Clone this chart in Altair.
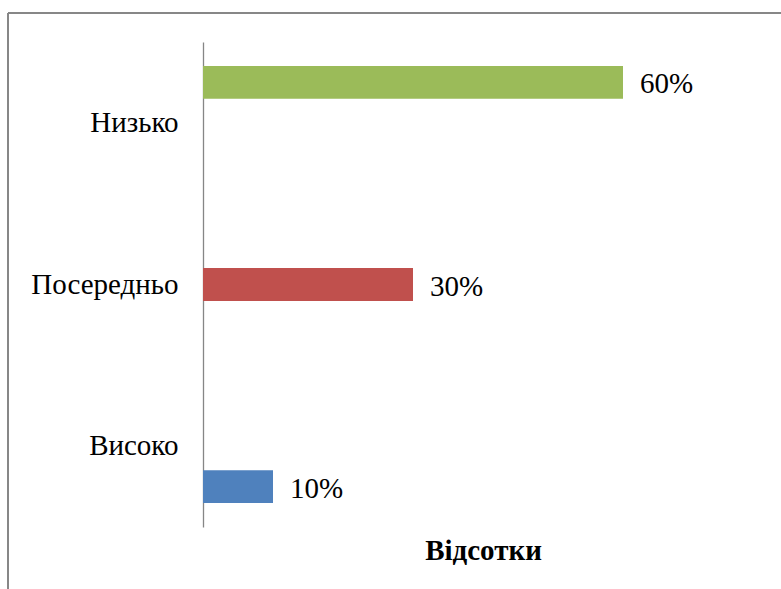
import altair as alt
import pandas as pd

# Survey answers and their shares, in percent
categories = ["Низько", "Посередньо", "Високо"]
shares = [60, 30, 10]
colors = ["#9BBB59", "#C0504D", "#4F81BD"]

df = pd.DataFrame({
    "category": categories,
    "series": categories,
    "share": shares,
    "label": [f"{v}%" for v in shares],
})

FONT = "'Liberation Serif', 'Times New Roman', serif"
SIZE = 29

y_enc = alt.Y("category:N", sort=categories,
              scale=alt.Scale(paddingInner=0, paddingOuter=0),
              axis=alt.Axis(title=None, ticks=False, labelPadding=25,
                            labelFont=FONT, labelFontSize=SIZE, labelColor="#000000",
                            domainColor="#868686", domainWidth=1.3,
                            labelAlign="right", labelBaseline="middle"))
y_off = alt.YOffset("series:N", sort=categories,
                    scale=alt.Scale(paddingInner=0.185, paddingOuter=0.59))
x_enc = alt.X("share:Q", scale=alt.Scale(domain=[0, 80]),
              axis=alt.Axis(title="Відсотки", labels=False, ticks=False, domain=False,
                            grid=False, titleFont=FONT, titleFontSize=SIZE,
                            titleFontWeight="bold", titleColor="#000000",
                            titlePadding=9))

bars = alt.Chart(df).mark_bar().encode(
    x=x_enc, y=y_enc, yOffset=y_off,
    color=alt.Color("series:N", sort=categories,
                    scale=alt.Scale(domain=categories, range=colors), legend=None),
)

labels = alt.Chart(df).mark_text(align="left", baseline="middle", dx=17, dy=2,
                                 font=FONT, fontSize=SIZE, color="#000000").encode(
    x="share:Q", y=alt.Y("category:N", sort=categories), yOffset=y_off,
    text="label:N",
)

# Outer frame around the chart area
frame_top = alt.Chart(df).mark_rule(color="#868686", strokeWidth=1.5).encode(
    x=alt.value(-195), x2=alt.value(700), y=alt.value(-29))
frame_left = alt.Chart(df).mark_rule(color="#868686", strokeWidth=1.5).encode(
    x=alt.value(-195), y=alt.value(-29), y2=alt.value(700))

chart = alt.layer(bars, labels, frame_top, frame_left).properties(
    width=560, height=485,
    background="#FFFFFF",
    autosize=alt.AutoSizeParams(type="none"),
    padding={"left": 203, "top": 42, "right": 18, "bottom": 62},
).configure_view(strokeWidth=0, stroke=None)

chart.save("out.html", embed_options={"renderer": "svg", "actions": False})
